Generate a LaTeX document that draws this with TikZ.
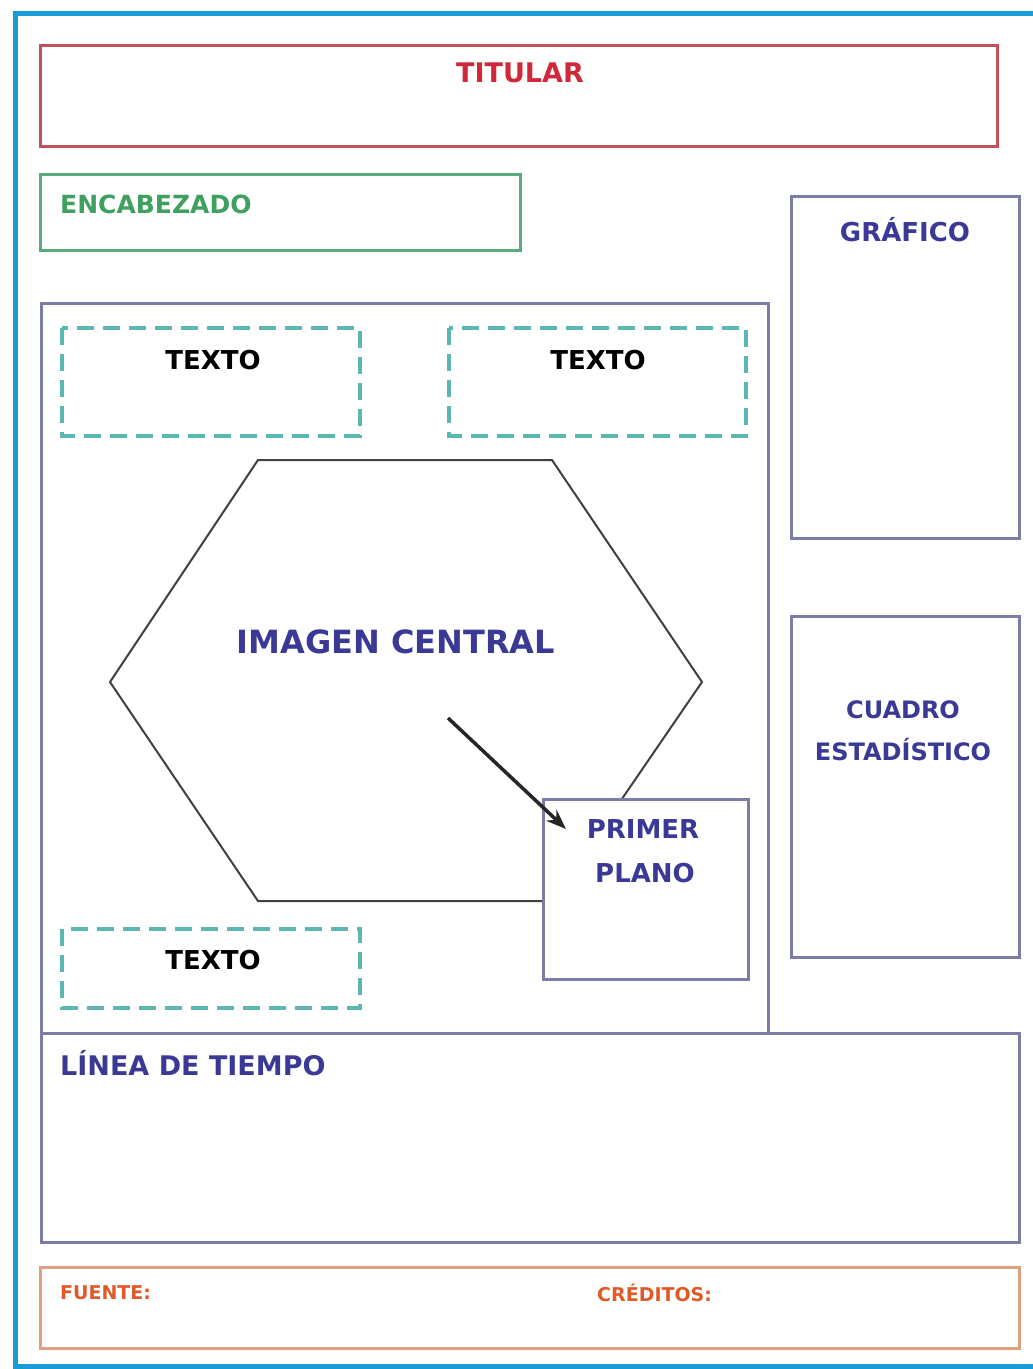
\documentclass[tikz,border=0pt]{standalone}
\usepackage{fontspec}
\setmainfont{DejaVu Sans}
\usetikzlibrary{arrows.meta}
\definecolor{frameblue}{HTML}{1A9AD6}
\definecolor{boxred}{HTML}{C0505A}
\definecolor{txtred}{HTML}{D02838}
\definecolor{boxgreen}{HTML}{5AAA80}
\definecolor{txtgreen}{HTML}{40A060}
\definecolor{boxpurple}{HTML}{7C7CA8}
\definecolor{txtblue}{HTML}{3A3A96}
\definecolor{dashteal}{HTML}{5AB8B0}
\definecolor{boxorange}{HTML}{E0A080}
\definecolor{txtorange}{HTML}{E05A28}
\tikzset{
  panel/.style={draw=boxpurple, line width=3pt},
  dashbox/.style={draw=dashteal, line width=3.6pt, dash pattern=on 17pt off 9pt},
  lbl/.style={inner sep=0pt, font=\bfseries\fontsize{26}{30}\selectfont},
  bluelbl/.style={lbl, text=txtblue},
}
\begin{document}
\begin{tikzpicture}[x=1pt,y=-1pt]
\useasboundingbox (0,0) rectangle (1033,1369);
\clip (0,0) rectangle (1033,1369);
\fill[white] (0,0) rectangle (1033,1369);
% outer frame
\draw[frameblue, line width=5pt] (1045,13) -- (15,13) -- (15,1366) -- (1045,1366);
% titular
\draw[boxred, line width=3pt] (40,45) rectangle (997,146);
\node[lbl, text=txtred, font=\bfseries\fontsize{27}{30}\selectfont] (titular) at (520,73) {TITULAR};
% encabezado
\draw[boxgreen, line width=3pt] (40,174) rectangle (520,250);
\node[lbl, text=txtgreen, anchor=west, font=\bfseries\fontsize{25}{30}\selectfont] (encabezado) at (60,204) {ENCABEZADO};
% grafico
\draw[panel] (791,196) rectangle (1019,538);
\node[bluelbl] (grafico) at (905,230) {GRÁFICO};
% main frame
\draw[panel] (41,1033) -- (41,303) -- (768,303) -- (768,1033);
% textos
\draw[dashbox] (62,328) rectangle (360,436);
\node[lbl, text=black] (texto1) at (213,360) {TEXTO};
\draw[dashbox] (449,328) rectangle (746,436);
\node[lbl, text=black] (texto2) at (598,360) {TEXTO};
\draw[dashbox] (62,929) rectangle (360,1008);
\node[lbl, text=black] (texto3) at (213,960) {TEXTO};
% hexagon
\draw[black!75, line width=2pt] (258,460) -- (552,460) -- (702,682) -- (552,901) -- (258,901) -- (110,682) -- cycle;
\node[bluelbl, font=\bfseries\fontsize{32}{38}\selectfont] (imagen) at (396,642) {IMAGEN CENTRAL};
% primer plano
\draw[panel, fill=white] (543,799) rectangle (748,979);
\node[bluelbl] (primer) at (643,829) {PRIMER};
\node[bluelbl] (plano) at (645,873) {PLANO};
\coordinate (arrowstart) at (448,718);
\coordinate (arrowend) at (566,829);
\draw[black!85, line width=3.5pt, -{Stealth[length=20pt,width=15pt]}] (arrowstart) -- (arrowend);
% cuadro estadistico
\draw[panel] (791,616) rectangle (1019,957);
\node[bluelbl, font=\bfseries\fontsize{24}{30}\selectfont] (cuadro) at (903,710) {CUADRO};
\node[bluelbl, font=\bfseries\fontsize{24}{30}\selectfont] (estad) at (903,750) {ESTADÍSTICO};
% linea de tiempo
\draw[panel] (41,1033) rectangle (1019,1242);
\node[bluelbl, anchor=west, font=\bfseries\fontsize{27}{30}\selectfont] (linea) at (60,1063) {LÍNEA DE TIEMPO};
% fuente / creditos
\draw[boxorange, line width=3pt] (40,1267) rectangle (1019,1348);
\node[lbl, text=txtorange, anchor=west, font=\bfseries\fontsize{19}{22}\selectfont] (fuente) at (60,1293) {FUENTE:};
\node[lbl, text=txtorange, anchor=west, font=\bfseries\fontsize{19}{22}\selectfont] (creditos) at (597,1293) {CRÉDITOS:};
\end{tikzpicture}
\end{document}
